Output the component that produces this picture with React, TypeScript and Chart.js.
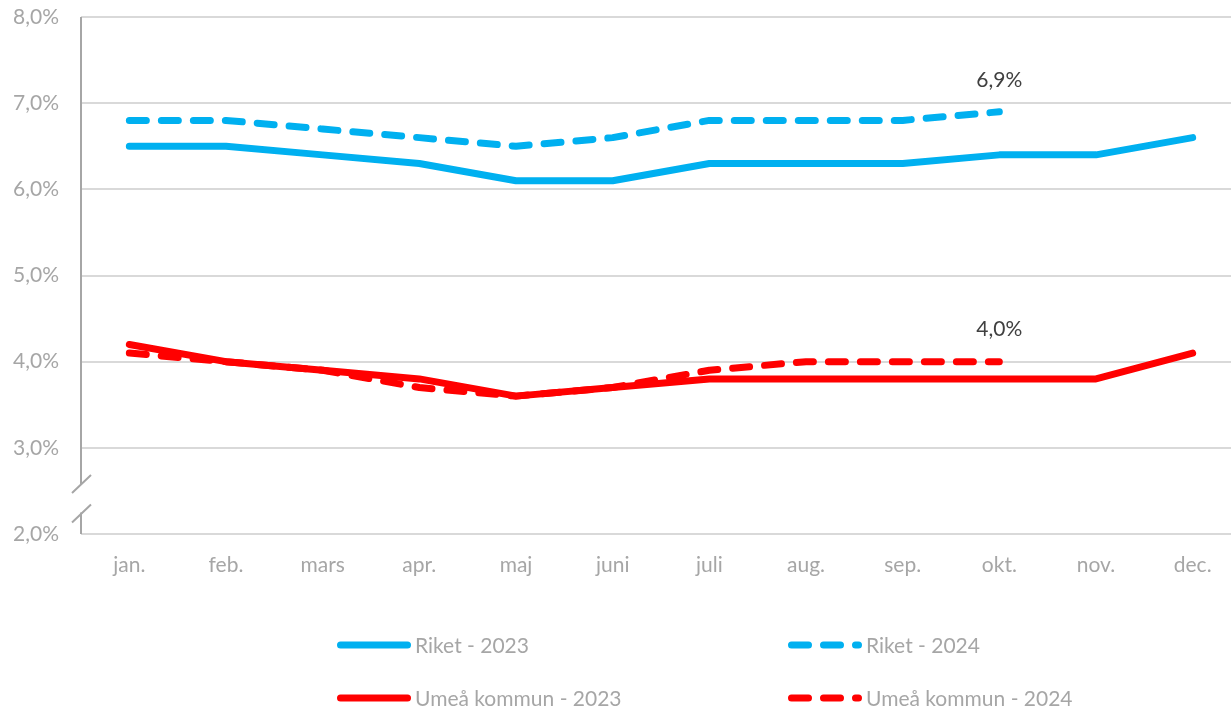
import React, { useEffect, useRef } from "react";
import { Chart, registerables } from "chart.js";
Chart.register(...registerables);

const months = ["jan.", "feb.", "mars", "apr.", "maj", "juni", "juli", "aug.", "sep.", "okt.", "nov.", "dec."];
const riket2023 = [6.5, 6.5, 6.4, 6.3, 6.1, 6.1, 6.3, 6.3, 6.3, 6.4, 6.4, 6.6];
const riket2024 = [6.8, 6.8, 6.7, 6.6, 6.5, 6.6, 6.8, 6.8, 6.8, 6.9];
const umea2023 = [4.2, 4.0, 3.9, 3.8, 3.6, 3.7, 3.8, 3.8, 3.8, 3.8, 3.8, 4.1];
const umea2024 = [4.1, 4.0, 3.9, 3.7, 3.6, 3.7, 3.9, 4.0, 4.0, 4.0];
const yTicks = [2, 3, 4, 5, 6, 7, 8];

const BLUE = "#00b0f0";
const RED = "#ff0000";
const GREY = "#a6a6a6";
const FONT = "Lato, 'Open Sans', sans-serif";
const FS = 21;
const LW = 7;

const fmt = (v: number) => v.toFixed(1).replace(".", ",") + "%";

export default function App() {
  const ref = useRef<HTMLCanvasElement | null>(null);
  useEffect(() => {
    document.body.style.margin = "0";
    const ctx = ref.current!;
    const dash = [17, 15];

    const breakPlugin = {
      id: "axisBreak",
      afterDraw(chart: any) {
        const c = chart.ctx;
        const y = chart.scales.y;
        const x0 = chart.chartArea.left;
        const top = chart.chartArea.top;
        const bottom = chart.chartArea.bottom;
        const gapTop = y.getPixelForValue(2.58);
        const gapBot = y.getPixelForValue(2.25);
        c.save();
        c.strokeStyle = GREY;
        c.lineWidth = 2;
        c.beginPath();
        c.moveTo(x0, top);
        c.lineTo(x0, gapTop);
        c.moveTo(x0, gapBot);
        c.lineTo(x0, bottom);
        c.stroke();
        c.beginPath();
        c.moveTo(x0 - 9, gapTop + 9);
        c.lineTo(x0 + 10, gapTop - 9);
        c.moveTo(x0 - 9, gapBot + 10);
        c.lineTo(x0 + 10, gapBot - 8);
        c.stroke();
        c.restore();
      },
    };

    const labelPlugin = {
      id: "lastLabels",
      afterDatasetsDraw(chart: any) {
        const c = chart.ctx;
        c.save();
        c.font = `${FS}px ${FONT}`;
        c.fillStyle = "#404040";
        c.textAlign = "center";
        c.textBaseline = "middle";
        [1, 3].forEach((i) => {
          const meta = chart.getDatasetMeta(i);
          const data = chart.data.datasets[i].data;
          const last = meta.data[data.length - 1];
          c.fillText(fmt(data[data.length - 1]), last.x, last.y - 32);
        });
        c.restore();
      },
    };

    const legendPos = [
      { x: 337, y: 645 },
      { x: 788, y: 645 },
      { x: 337, y: 698 },
      { x: 788, y: 698 },
    ];
    const legendPlugin = {
      id: "customLegend",
      afterDraw(chart: any) {
        const c = chart.ctx;
        c.save();
        chart.data.datasets.forEach((ds: any, i: number) => {
          const p = legendPos[i];
          c.strokeStyle = ds.borderColor;
          c.lineWidth = LW;
          c.lineCap = "round";
          c.setLineDash(ds.borderDash || []);
          c.beginPath();
          c.moveTo(p.x + 3.5, p.y);
          c.lineTo(p.x + 70.5, p.y);
          c.stroke();
          c.setLineDash([]);
          c.font = `${FS}px ${FONT}`;
          c.fillStyle = GREY;
          c.textAlign = "left";
          c.textBaseline = "middle";
          c.fillText(ds.label, p.x + 78, p.y + 1);
        });
        c.restore();
      },
    };

    const common = { borderWidth: LW, pointRadius: 0, borderCapStyle: "round", borderJoinStyle: "round" };
    const chart = new Chart(ctx, {
      type: "line",
      data: {
        labels: months,
        datasets: [
          { label: "Riket - 2023", data: riket2023, borderColor: BLUE, ...common },
          { label: "Riket - 2024", data: riket2024, borderColor: BLUE, borderDash: dash, ...common },
          { label: "Umeå kommun - 2023", data: umea2023, borderColor: RED, ...common },
          { label: "Umeå kommun - 2024", data: umea2024, borderColor: RED, borderDash: dash, ...common },
        ] as any,
      },
      options: {
        animation: false,
        responsive: false,
        maintainAspectRatio: false,
        layout: { autoPadding: false, padding: { left: 0, right: 4, top: 17, bottom: 125 } },
        plugins: { legend: { display: false }, tooltip: { enabled: false } },
        scales: {
          x: {
            offset: true,
            grid: { display: false, drawTicks: false, offset: true },
            border: { display: false },
            ticks: { color: GREY, font: { family: FONT, size: FS }, padding: 19 },
            afterFit: (s: any) => { s.height = 50; s.paddingLeft = 0; s.paddingRight = 0; },
          },
          y: {
            min: 2,
            max: 8,
            afterBuildTicks: (s: any) => { s.ticks = yTicks.map((v) => ({ value: v })); },
            grid: { color: "#d9d9d9", lineWidth: 2, drawTicks: false },
            border: { display: false },
            ticks: { color: GREY, font: { family: FONT, size: FS }, padding: 22, callback: (v: any) => fmt(Number(v)) },
            afterFit: (s: any) => { s.width = 81; s.paddingTop = 0; s.paddingBottom = 0; },
          },
        },
      },
      plugins: [breakPlugin, labelPlugin, legendPlugin],
    });
    return () => chart.destroy();
  }, []);
  return (
    <div style={{ position: "fixed", left: 0, top: 0, width: 1231, height: 709, overflow: "hidden", background: "#fff" }}>
      <canvas ref={ref} width={1245} height={709} style={{ width: 1245, height: 709, display: "block" }} />
    </div>
  );
}
